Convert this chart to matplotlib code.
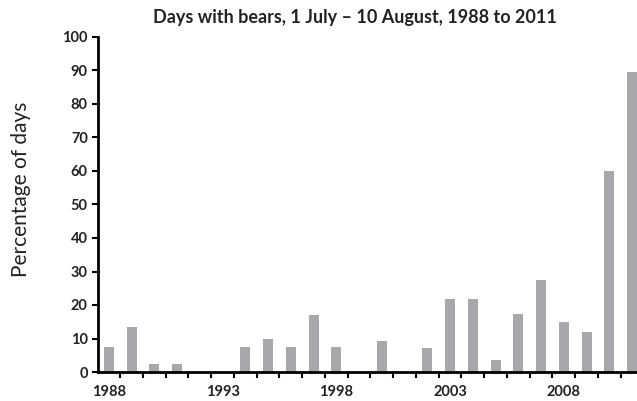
import matplotlib.pyplot as plt
import numpy as np

# Data
years = list(range(1988, 2012))
pct_days = [7.4, 13.3, 2.4, 2.4, 0, 0, 7.4, 9.8, 7.4, 16.9, 7.4, 0,
            9.2, 0, 7.1, 21.9, 21.9, 3.5, 17.3, 27.6, 14.8, 11.9, 60.1, 89.5]
label_years = [1988, 1993, 1998, 2003, 2008]
y_ticks = list(range(0, 101, 10))

plt.rcParams['font.family'] = ['Lato', 'DejaVu Sans']

fig = plt.figure(figsize=(6.37, 4.01), dpi=100)
ax = fig.add_axes([97.5 / 637, 1 - 372 / 401, 546 / 637, 335 / 401])

x = np.arange(len(years))
ax.bar(x, pct_days, width=0.44, color='#a7a8ab', edgecolor='none', zorder=2)

ax.set_xlim(-0.5, len(years) - 0.5)
ax.set_ylim(0, 100)

# y axis
ax.set_yticks(y_ticks)
ax.set_yticklabels([str(v) for v in y_ticks], fontsize=10.5, fontweight='bold',
                   color='#222222')
ax.tick_params(axis='y', direction='out', length=4, width=1.5, pad=3)

# x axis: labels at some categories, ticks at boundaries
ax.set_xticks([years.index(yr) for yr in label_years])
ax.set_xticklabels([str(yr) for yr in label_years], fontsize=10.5, fontweight='bold',
                   color='#222222')
ax.set_xticks(np.arange(0.5, len(years) - 0.5), minor=True)
ax.tick_params(axis='x', which='major', length=0, pad=9)
ax.tick_params(axis='x', which='minor', direction='out', length=4, width=1.5)

for side in ['top', 'right']:
    ax.spines[side].set_visible(False)
for side in ['left', 'bottom']:
    ax.spines[side].set_linewidth(2)
    ax.spines[side].set_color('black')

fig.text(355 / 637, 1 - 18 / 401, 'Days with bears, 1 July \u2013 10 August, 1988 to 2011',
         ha='center', va='center', fontsize=13, fontweight='bold', color='#222222')
fig.text(21 / 637, 1 - 189 / 401, 'Percentage of days', rotation=90,
         ha='center', va='center', fontsize=15, color='#222222')

fig.savefig('out.png', dpi=100)
